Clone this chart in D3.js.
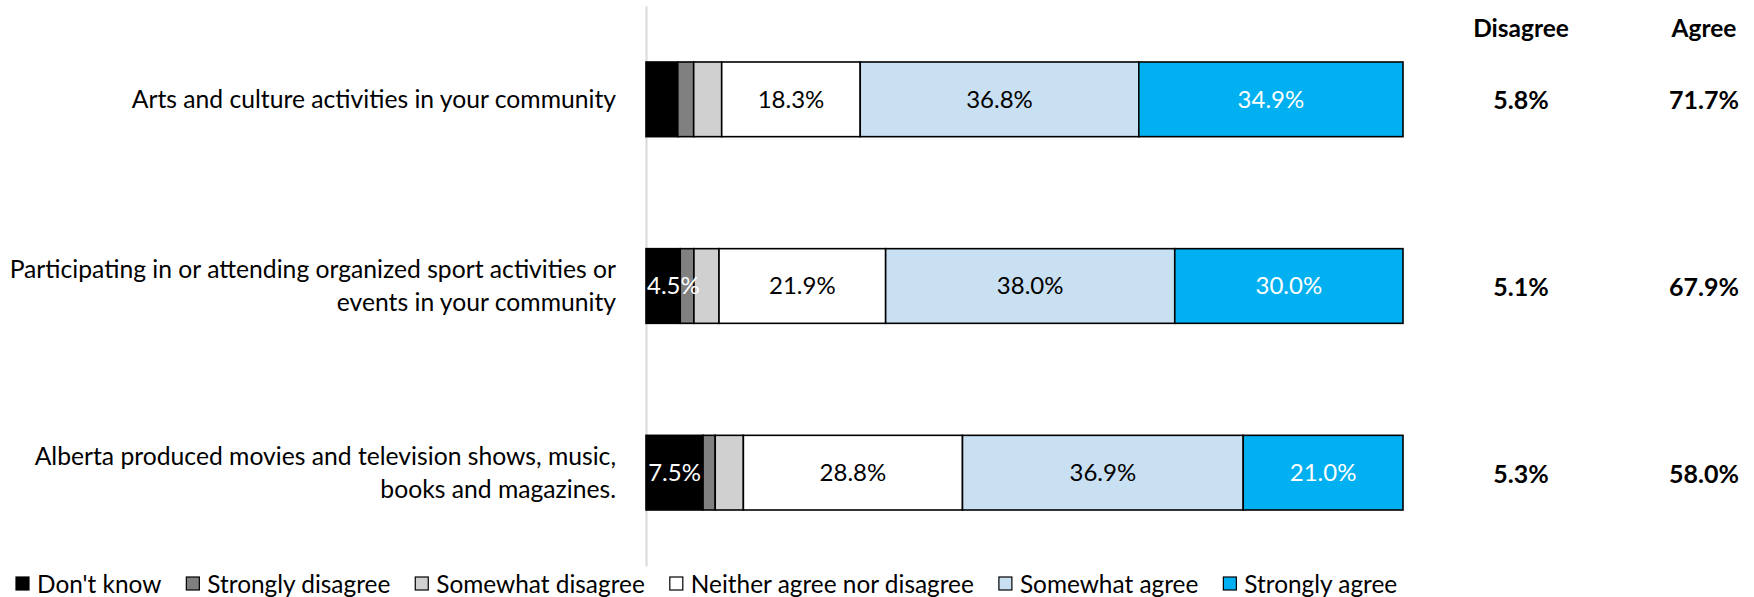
<!DOCTYPE html>
<html><head><meta charset="utf-8">
<script src="https://cdn.jsdelivr.net/npm/d3@7"></script>
<style>
html,body{margin:0;padding:0;background:#fff;}
svg{display:block;font-family:Lato,"Open Sans",sans-serif;}
</style></head><body>
<svg id="chart" width="1754" height="597"></svg>
<script>
// ---- data ----
const categories = [
  "Arts and culture activities in your community",
  "Participating in or attending organized sport activities or\nevents in your community",
  "Alberta produced movies and television shows, music,\nbooks and magazines."
];
const seriesNames = ["Don't know", "Strongly disagree", "Somewhat disagree",
  "Neither agree nor disagree", "Somewhat agree", "Strongly agree"];
const dontKnow          = [4.2, 4.5, 7.5];
const stronglyDisagree  = [2.1, 1.8, 1.6];
const somewhatDisagree  = [3.7, 3.3, 3.7];
const neither           = [18.3, 21.9, 28.8];
const somewhatAgree     = [36.8, 38.0, 36.9];
const stronglyAgree     = [34.9, 30.0, 21.0];
const netHeaders  = ["Disagree", "Agree"];
const disagreeNet = [5.8, 5.1, 5.3];
const agreeNet    = [71.7, 67.9, 58.0];

// ---- styles ----
const colors = ["#000000", "#808080", "#d0d0d0", "#ffffff", "#c9dff2", "#00b0f0"];
const labelColors = ["#ffffff", "#ffffff", "#000000", "#000000", "#000000", "#ffffff"];
const minLabelValue = 4.5;

const seriesValues = [dontKnow, stronglyDisagree, somewhatDisagree, neither, somewhatAgree, stronglyAgree];
const rows = categories.map((c, i) => {
  const r = {category: c};
  seriesNames.forEach((s, k) => r[s] = seriesValues[k][i]);
  return r;
});

const svg = d3.select("#chart");
const x = d3.scaleLinear().domain([0, 1]).range([646, 1403]);
const y = d3.scaleBand().domain(categories).range([6, 566]).paddingInner(0.6).paddingOuter(0.3);

const stacked = d3.stack().keys(seriesNames).offset(d3.stackOffsetExpand)(rows);

// axis (vertical line + category labels)
const axisG = svg.append("g").attr("transform", "translate(646,0)")
  .call(d3.axisLeft(y).tickSize(0).tickPadding(30));
axisG.select(".domain").attr("stroke", "#d9d9d9").attr("stroke-width", 2);
axisG.selectAll(".tick text")
  .attr("font-family", "Lato, 'Open Sans', sans-serif")
  .attr("font-size", 24.7).attr("fill", "#000")
  .each(function(d) {
    const t = d3.select(this);
    const lines = d.split("\n");
    t.text(null).attr("dy", null);
    const lh = 33;
    lines.forEach((ln, i) => {
      t.append("tspan").attr("x", -30)
        .attr("y", (i - (lines.length - 1) / 2) * lh)
        .attr("dy", "0.35em").text(ln);
    });
  });

// bars
const layers = svg.append("g").selectAll("g").data(stacked).join("g")
  .attr("fill", (d, i) => colors[i]);
layers.selectAll("rect").data(d => d).join("rect")
  .attr("x", d => x(d[0]))
  .attr("y", d => y(d.data.category))
  .attr("width", d => x(d[1]) - x(d[0]))
  .attr("height", y.bandwidth())
  .attr("stroke", "#000").attr("stroke-width", 1.6);

// segment labels (centred; kept inside the plot's left edge)
const fmt = v => v.toFixed(1) + "%";
stacked.forEach((layer, k) => {
  svg.append("g").selectAll("text")
    .data(layer.filter(d => d.data[layer.key] >= minLabelValue))
    .join("text")
    .attr("y", d => y(d.data.category) + y.bandwidth() / 2)
    .attr("dy", "0.35em")
    .attr("text-anchor", "middle")
    .attr("font-size", 24)
    .attr("fill", labelColors[k])
    .text(d => fmt(d.data[layer.key]))
    .attr("x", function(d) {
      const cx = (x(d[0]) + x(d[1])) / 2;
      const half = this.getComputedTextLength() / 2;
      return Math.max(cx, x(0) + half + 1);
    });
});

// net columns
const xNet = d3.scalePoint().domain(netHeaders).range([1521, 1704]);
const netValues = [disagreeNet, agreeNet];
svg.append("g").selectAll("text").data(netHeaders).join("text")
  .attr("x", d => xNet(d)).attr("y", 37)
  .attr("text-anchor", "middle").attr("font-weight", "bold").attr("font-size", 24.5)
  .text(d => d);
netHeaders.forEach((h, k) => {
  svg.append("g").selectAll("text").data(categories).join("text")
    .attr("x", xNet(h))
    .attr("y", c => y(c) + y.bandwidth() / 2)
    .attr("dy", "0.4em")
    .attr("text-anchor", "middle").attr("font-weight", "bold").attr("font-size", 25)
    .text((c, i) => fmt(netValues[k][i]));
});

// legend
const legend = svg.append("g").attr("transform", "translate(16,584)");
let lx = 0;
seriesNames.forEach((s, i) => {
  const g = legend.append("g").attr("transform", `translate(${lx},0)`);
  g.append("rect").attr("x", 0).attr("y", -7).attr("width", 13).attr("height", 13)
    .attr("fill", colors[i]).attr("stroke", "#000").attr("stroke-width", 1.2);
  const t = g.append("text").attr("x", 21).attr("y", 0).attr("dy", "0.35em")
    .attr("font-size", 24.4).text(s);
  lx += 21 + t.node().getComputedTextLength() + 25;
});
</script>
</body></html>
